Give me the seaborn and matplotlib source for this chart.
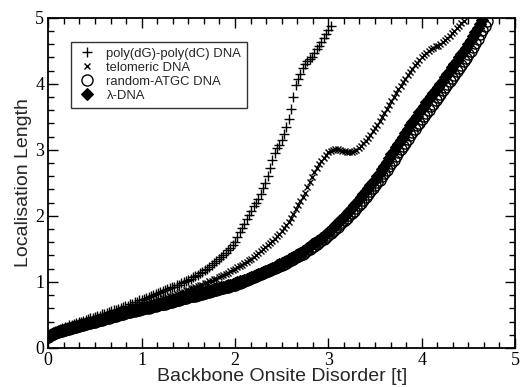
import pandas as pd
import seaborn as sns
import matplotlib.pyplot as plt
from matplotlib.ticker import MultipleLocator

# --- data (disorder step 0.025) ---
disorder = [0.000, 0.025, 0.050, 0.075, 0.100, 0.125, 0.150, 0.175, 0.200, 0.225,
            0.250, 0.275, 0.300, 0.325, 0.350, 0.375, 0.400, 0.425, 0.450, 0.475,
            0.500, 0.525, 0.550, 0.575, 0.600, 0.625, 0.650, 0.675, 0.700, 0.725,
            0.750, 0.775, 0.800, 0.825, 0.850, 0.875, 0.900, 0.925, 0.950, 0.975,
            1.000, 1.025, 1.050, 1.075, 1.100, 1.125, 1.150, 1.175, 1.200, 1.225,
            1.250, 1.275, 1.300, 1.325, 1.350, 1.375, 1.400, 1.425, 1.450, 1.475,
            1.500, 1.525, 1.550, 1.575, 1.600, 1.625, 1.650, 1.675, 1.700, 1.725,
            1.750, 1.775, 1.800, 1.825, 1.850, 1.875, 1.900, 1.925, 1.950, 1.975,
            2.000, 2.025, 2.050, 2.075, 2.100, 2.125, 2.150, 2.175, 2.200, 2.225,
            2.250, 2.275, 2.300, 2.325, 2.350, 2.375, 2.400, 2.425, 2.450, 2.475,
            2.500, 2.525, 2.550, 2.575, 2.600, 2.625, 2.650, 2.675, 2.700, 2.725,
            2.750, 2.775, 2.800, 2.825, 2.850, 2.875, 2.900, 2.925, 2.950, 2.975,
            3.000, 3.025, 3.050, 3.075, 3.100, 3.125, 3.150, 3.175, 3.200, 3.225,
            3.250, 3.275, 3.300, 3.325, 3.350, 3.375, 3.400, 3.425, 3.450, 3.475,
            3.500, 3.525, 3.550, 3.575, 3.600, 3.625, 3.650, 3.675, 3.700, 3.725,
            3.750, 3.775, 3.800, 3.825, 3.850, 3.875, 3.900, 3.925, 3.950, 3.975,
            4.000, 4.025, 4.050, 4.075, 4.100, 4.125, 4.150, 4.175, 4.200, 4.225,
            4.250, 4.275, 4.300, 4.325, 4.350, 4.375, 4.400, 4.425, 4.450, 4.475,
            4.500, 4.525, 4.550, 4.575, 4.600, 4.625, 4.650, 4.675, 4.700]

poly_dg_dc = [0.18, 0.21, 0.24, 0.26, 0.27, 0.29, 0.30, 0.31, 0.32, 0.34,
              0.35, 0.36, 0.37, 0.39, 0.40, 0.41, 0.42, 0.44, 0.45, 0.46,
              0.47, 0.48, 0.49, 0.51, 0.52, 0.53, 0.54, 0.56, 0.57, 0.58,
              0.59, 0.61, 0.62, 0.63, 0.64, 0.66, 0.67, 0.69, 0.70, 0.72,
              0.73, 0.74, 0.75, 0.77, 0.78, 0.80, 0.81, 0.83, 0.84, 0.86,
              0.87, 0.89, 0.90, 0.92, 0.93, 0.95, 0.96, 0.98, 1.00, 1.02,
              1.03, 1.05, 1.07, 1.09, 1.11, 1.13, 1.15, 1.18, 1.20, 1.22,
              1.25, 1.28, 1.31, 1.34, 1.37, 1.40, 1.44, 1.48, 1.52, 1.56,
              1.61, 1.68, 1.75, 1.81, 1.88, 1.95, 2.02, 2.08, 2.15, 2.19,
              2.25, 2.33, 2.42, 2.50, 2.60, 2.72, 2.85, 2.95, 3.03, 3.08,
              3.15, 3.24, 3.35, 3.47, 3.62, 3.80, 3.98, 4.08, 4.15, 4.24,
              4.30, 4.34, 4.37, 4.40, 4.47, 4.53, 4.58, 4.64, 4.70, 4.76,
              4.82, 4.87]

telomeric = [0.18, 0.21, 0.23, 0.25, 0.26, 0.27, 0.28, 0.29, 0.30, 0.32,
             0.33, 0.34, 0.35, 0.36, 0.37, 0.38, 0.39, 0.40, 0.41, 0.42,
             0.43, 0.44, 0.45, 0.46, 0.47, 0.48, 0.49, 0.51, 0.52, 0.53,
             0.54, 0.55, 0.56, 0.57, 0.58, 0.59, 0.60, 0.61, 0.62, 0.63,
             0.64, 0.66, 0.67, 0.68, 0.69, 0.70, 0.71, 0.72, 0.73, 0.75,
             0.76, 0.77, 0.78, 0.79, 0.80, 0.82, 0.83, 0.84, 0.85, 0.87,
             0.88, 0.90, 0.91, 0.93, 0.94, 0.95, 0.96, 0.98, 0.99, 1.01,
             1.02, 1.04, 1.05, 1.07, 1.09, 1.11, 1.12, 1.14, 1.16, 1.18,
             1.20, 1.22, 1.24, 1.26, 1.28, 1.30, 1.33, 1.35, 1.38, 1.41,
             1.44, 1.47, 1.50, 1.53, 1.56, 1.59, 1.62, 1.65, 1.69, 1.73,
             1.77, 1.81, 1.86, 1.91, 1.97, 2.03, 2.10, 2.16, 2.23, 2.29,
             2.35, 2.43, 2.52, 2.59, 2.66, 2.72, 2.78, 2.83, 2.88, 2.92,
             2.96, 2.98, 3.00, 3.01, 3.01, 3.00, 2.99, 2.98, 2.97, 2.96,
             2.97, 2.98, 3.00, 3.03, 3.06, 3.10, 3.14, 3.18, 3.23, 3.28,
             3.33, 3.38, 3.44, 3.50, 3.56, 3.62, 3.68, 3.74, 3.80, 3.86,
             3.92, 3.97, 4.03, 4.08, 4.13, 4.18, 4.23, 4.28, 4.32, 4.36,
             4.40, 4.44, 4.47, 4.50, 4.53, 4.55, 4.57, 4.58, 4.60, 4.63,
             4.66, 4.70, 4.73, 4.77, 4.80, 4.84, 4.88, 4.92, 4.95]

random_atgc = [0.17, 0.19, 0.21, 0.23, 0.24, 0.25, 0.26, 0.27, 0.28, 0.29,
               0.30, 0.31, 0.32, 0.33, 0.34, 0.35, 0.36, 0.37, 0.38, 0.39,
               0.40, 0.41, 0.42, 0.43, 0.44, 0.45, 0.46, 0.47, 0.48, 0.49,
               0.50, 0.51, 0.52, 0.53, 0.54, 0.55, 0.56, 0.56, 0.57, 0.58,
               0.59, 0.60, 0.61, 0.61, 0.62, 0.63, 0.64, 0.65, 0.66, 0.66,
               0.67, 0.68, 0.69, 0.70, 0.71, 0.72, 0.73, 0.74, 0.75, 0.76,
               0.77, 0.78, 0.79, 0.79, 0.80, 0.81, 0.82, 0.83, 0.84, 0.85,
               0.86, 0.87, 0.88, 0.89, 0.90, 0.91, 0.92, 0.93, 0.94, 0.95,
               0.96, 0.98, 0.99, 1.00, 1.01, 1.03, 1.04, 1.06, 1.07, 1.09,
               1.10, 1.12, 1.13, 1.15, 1.16, 1.18, 1.19, 1.21, 1.22, 1.24,
               1.25, 1.27, 1.29, 1.31, 1.33, 1.35, 1.37, 1.39, 1.41, 1.43,
               1.45, 1.48, 1.50, 1.53, 1.55, 1.58, 1.60, 1.63, 1.65, 1.68,
               1.71, 1.74, 1.77, 1.80, 1.83, 1.87, 1.90, 1.94, 1.97, 2.01,
               2.05, 2.08, 2.12, 2.16, 2.20, 2.24, 2.28, 2.33, 2.37, 2.42,
               2.46, 2.51, 2.55, 2.60, 2.65, 2.70, 2.75, 2.80, 2.85, 2.91,
               2.96, 3.01, 3.06, 3.11, 3.16, 3.22, 3.27, 3.32, 3.37, 3.41,
               3.46, 3.51, 3.56, 3.61, 3.66, 3.70, 3.75, 3.80, 3.85, 3.90,
               3.95, 4.00, 4.05, 4.09, 4.14, 4.19, 4.24, 4.29, 4.34, 4.39,
               4.45, 4.50, 4.56, 4.62, 4.68, 4.75, 4.82, 4.88, 4.95]

lambda_dna = [0.17, 0.19, 0.21, 0.23, 0.24, 0.26, 0.27, 0.28, 0.29, 0.30,
              0.31, 0.32, 0.33, 0.34, 0.35, 0.36, 0.37, 0.38, 0.39, 0.40,
              0.41, 0.42, 0.43, 0.44, 0.45, 0.46, 0.47, 0.48, 0.49, 0.50,
              0.51, 0.52, 0.53, 0.54, 0.55, 0.56, 0.57, 0.58, 0.59, 0.59,
              0.60, 0.61, 0.62, 0.62, 0.63, 0.64, 0.65, 0.66, 0.67, 0.67,
              0.68, 0.69, 0.70, 0.71, 0.72, 0.73, 0.74, 0.75, 0.76, 0.77,
              0.78, 0.79, 0.80, 0.81, 0.82, 0.83, 0.84, 0.85, 0.86, 0.87,
              0.88, 0.89, 0.90, 0.91, 0.92, 0.93, 0.94, 0.95, 0.96, 0.97,
              0.98, 1.00, 1.01, 1.02, 1.03, 1.05, 1.06, 1.08, 1.09, 1.11,
              1.12, 1.14, 1.15, 1.17, 1.18, 1.20, 1.21, 1.23, 1.25, 1.27,
              1.28, 1.30, 1.32, 1.34, 1.36, 1.38, 1.40, 1.42, 1.44, 1.47,
              1.49, 1.52, 1.54, 1.57, 1.59, 1.62, 1.64, 1.67, 1.70, 1.73,
              1.76, 1.79, 1.82, 1.86, 1.89, 1.93, 1.96, 2.00, 2.04, 2.08,
              2.12, 2.16, 2.20, 2.24, 2.28, 2.33, 2.37, 2.42, 2.46, 2.51,
              2.55, 2.60, 2.65, 2.71, 2.76, 2.82, 2.87, 2.93, 2.98, 3.04,
              3.09, 3.15, 3.20, 3.26, 3.31, 3.37, 3.42, 3.47, 3.52, 3.57,
              3.62, 3.67, 3.72, 3.77, 3.81, 3.86, 3.90, 3.95, 4.00, 4.05,
              4.10, 4.15, 4.20, 4.25, 4.30, 4.35, 4.40, 4.45, 4.50, 4.55,
              4.60, 4.66, 4.72, 4.78, 4.85, 4.91, 4.97]

series = [
    ("poly(dG)-poly(dC) DNA", poly_dg_dc,
     dict(marker="+", markersize=7, markeredgewidth=1.0, markerfacecolor="black")),
    ("telomeric DNA", telomeric,
     dict(marker="x", markersize=5, markeredgewidth=1.0, markerfacecolor="black")),
    ("random-ATGC DNA", random_atgc,
     dict(marker="o", markersize=8, markeredgewidth=1.0, markerfacecolor="none")),
    ("λ-DNA", lambda_dna,
     dict(marker="D", markersize=6.5, markeredgewidth=0.8, markerfacecolor="black")),
]

sns.set_style("ticks")
plt.rcParams["font.family"] = ["Liberation Sans", "DejaVu Sans"]

fig = plt.figure(figsize=(5.25, 3.87), dpi=100)
ax = fig.add_axes([0.092, 0.101, 0.889, 0.853])

for name, values, style in series:
    df = pd.DataFrame({"x": disorder[:len(values)], "y": values})
    sns.lineplot(data=df, x="x", y="y", ax=ax, label=name, estimator=None, sort=False,
                 linestyle="", color="black", markeredgecolor="black", **style)

ax.set_xlim(0, 5)
ax.set_ylim(0, 5)
ax.set_xticks(range(6))
ax.set_yticks(range(6))
ax.xaxis.set_minor_locator(MultipleLocator(1 / 6))
ax.yaxis.set_minor_locator(MultipleLocator(0.2))
ax.tick_params(which="both", direction="in", top=True, right=True, width=1, colors="black")
ax.tick_params(which="major", length=7, pad=3, labelsize=13,
               labelfontfamily="Liberation Serif")
ax.tick_params(which="minor", length=4)
for sp in ax.spines.values():
    sp.set_linewidth(1.3)
    sp.set_color("black")

ax.set_xlabel("Backbone Onsite Disorder [t]", fontsize=14, labelpad=-1)
ax.set_ylabel("Localisation Length", fontsize=14, labelpad=2)

leg = ax.legend(loc="upper left", bbox_to_anchor=(0.049, 0.927), fontsize=9.4,
                frameon=True, fancybox=False, edgecolor="black", handlelength=1.6,
                handletextpad=0.65, borderpad=0.45, labelspacing=0.14, borderaxespad=0)
leg.get_frame().set_linewidth(1.0)

fig.savefig("out.png", dpi=100)
